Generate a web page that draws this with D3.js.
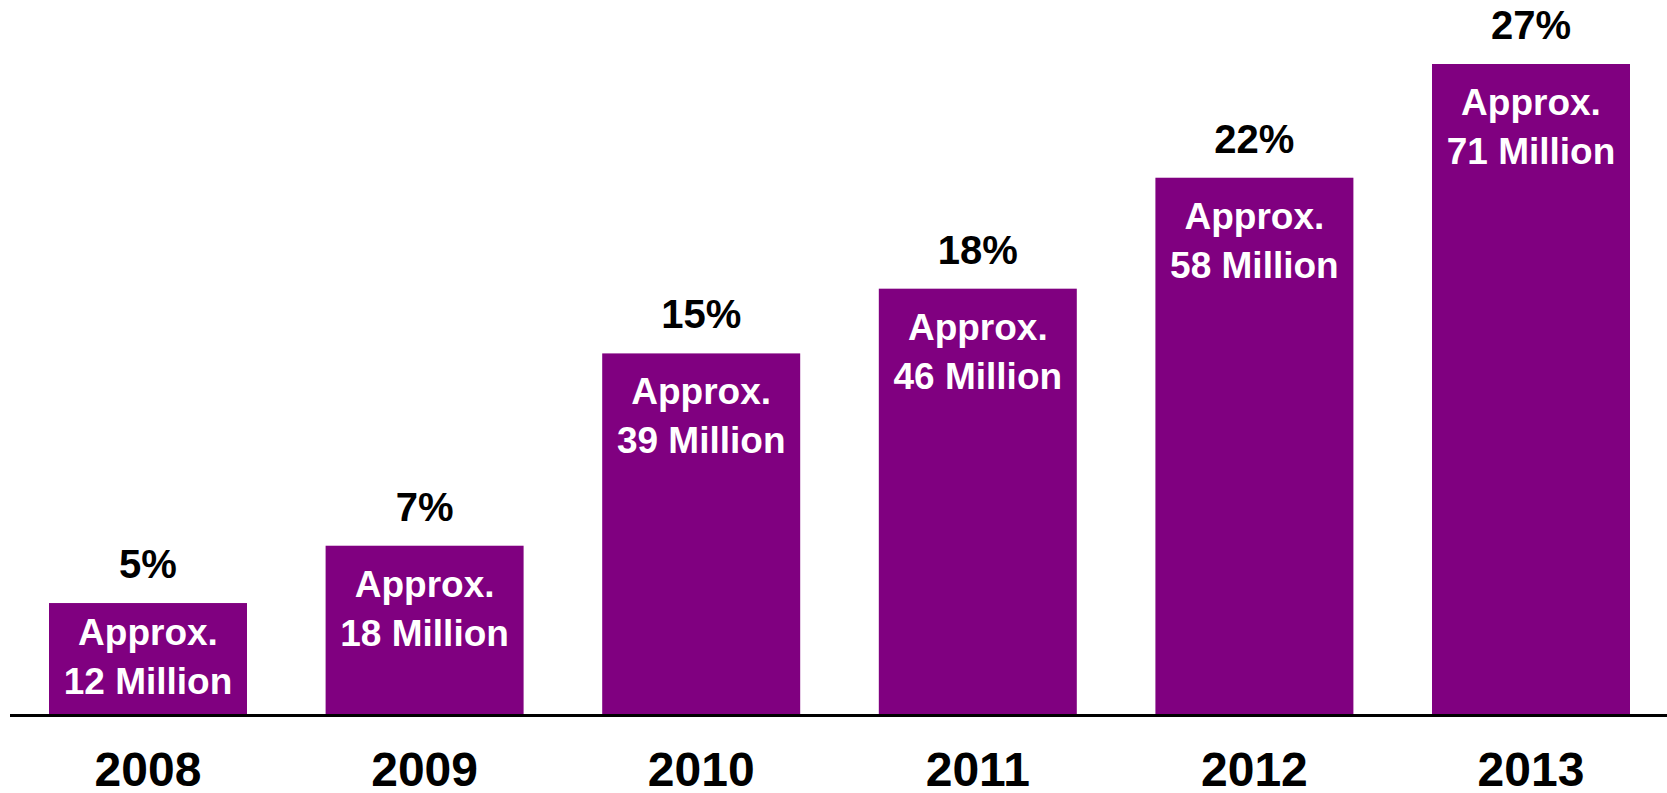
<!DOCTYPE html>
<html>
<head>
<meta charset="utf-8">
<script src="https://cdn.jsdelivr.net/npm/d3@7"></script>
<style>
  html, body { margin: 0; padding: 0; background: #fff; }
  svg { display: block; }
  text { font-family: "Liberation Sans", Arial, sans-serif; font-weight: bold; }
</style>
</head>
<body>
<svg id="chart" width="1667" height="793"></svg>
<script>
const years = ["2008", "2009", "2010", "2011", "2012", "2013"];
const millions = [12, 18.2, 39, 46, 58, 70.3];
const percentLabels = ["5%", "7%", "15%", "18%", "22%", "27%"];
const line1Labels = ["Approx.", "Approx.", "Approx.", "Approx.", "Approx.", "Approx."];
const line2Labels = ["12 Million", "18 Million", "39 Million", "46 Million", "58 Million", "71 Million"];

const W = 1667, H = 793;
const baseY = 714;
const svg = d3.select("#chart");

const x = d3.scaleBand().domain(years).range([49, 1630]).paddingInner(0.2842).paddingOuter(0);
const y = d3.scaleLinear().domain([0, 70.3]).range([baseY, 64]);

const data = years.map((yr, i) => ({ yr, v: millions[i], pct: percentLabels[i], l1: line1Labels[i], l2: line2Labels[i] }));

svg.selectAll("rect.bar").data(data).enter().append("rect")
  .attr("class", "bar")
  .attr("x", d => x(d.yr))
  .attr("y", d => y(d.v))
  .attr("width", x.bandwidth())
  .attr("height", d => baseY - y(d.v))
  .attr("fill", "#800080");

// baseline axis
const axis = d3.axisBottom(x).tickSize(0).tickPadding(0);
const gAxis = svg.append("g").attr("transform", `translate(0,${baseY})`).call(axis);
gAxis.select(".domain").remove();
gAxis.selectAll(".tick text").remove();
svg.append("line").attr("x1", 10).attr("x2", W).attr("y1", baseY + 1.5).attr("y2", baseY + 1.5)
  .attr("stroke", "#000").attr("stroke-width", 3);

// year labels
svg.selectAll("text.year").data(data).enter().append("text")
  .attr("class", "year")
  .attr("x", d => x(d.yr) + x.bandwidth() / 2)
  .attr("y", 786)
  .attr("text-anchor", "middle")
  .attr("font-size", 48)
  .attr("fill", "#000")
  .text(d => d.yr);

// percent labels
svg.selectAll("text.pct").data(data).enter().append("text")
  .attr("class", "pct")
  .attr("x", d => x(d.yr) + x.bandwidth() / 2)
  .attr("y", d => y(d.v) - 25)
  .attr("text-anchor", "middle")
  .attr("font-size", 40)
  .attr("fill", "#000")
  .text(d => d.pct);

// inner labels
const lineGap = 49;
function firstBaseline(d) {
  return Math.min(y(d.v) + 51, baseY - 20 - lineGap);
}
svg.selectAll("text.l1").data(data).enter().append("text")
  .attr("class", "l1")
  .attr("x", d => x(d.yr) + x.bandwidth() / 2)
  .attr("y", d => firstBaseline(d))
  .attr("text-anchor", "middle")
  .attr("font-size", 37)
  .attr("fill", "#fff")
  .text(d => d.l1);
svg.selectAll("text.l2").data(data).enter().append("text")
  .attr("class", "l2")
  .attr("x", d => x(d.yr) + x.bandwidth() / 2)
  .attr("y", d => firstBaseline(d) + lineGap)
  .attr("text-anchor", "middle")
  .attr("font-size", 37)
  .attr("fill", "#fff")
  .text(d => d.l2);
</script>
</body>
</html>
